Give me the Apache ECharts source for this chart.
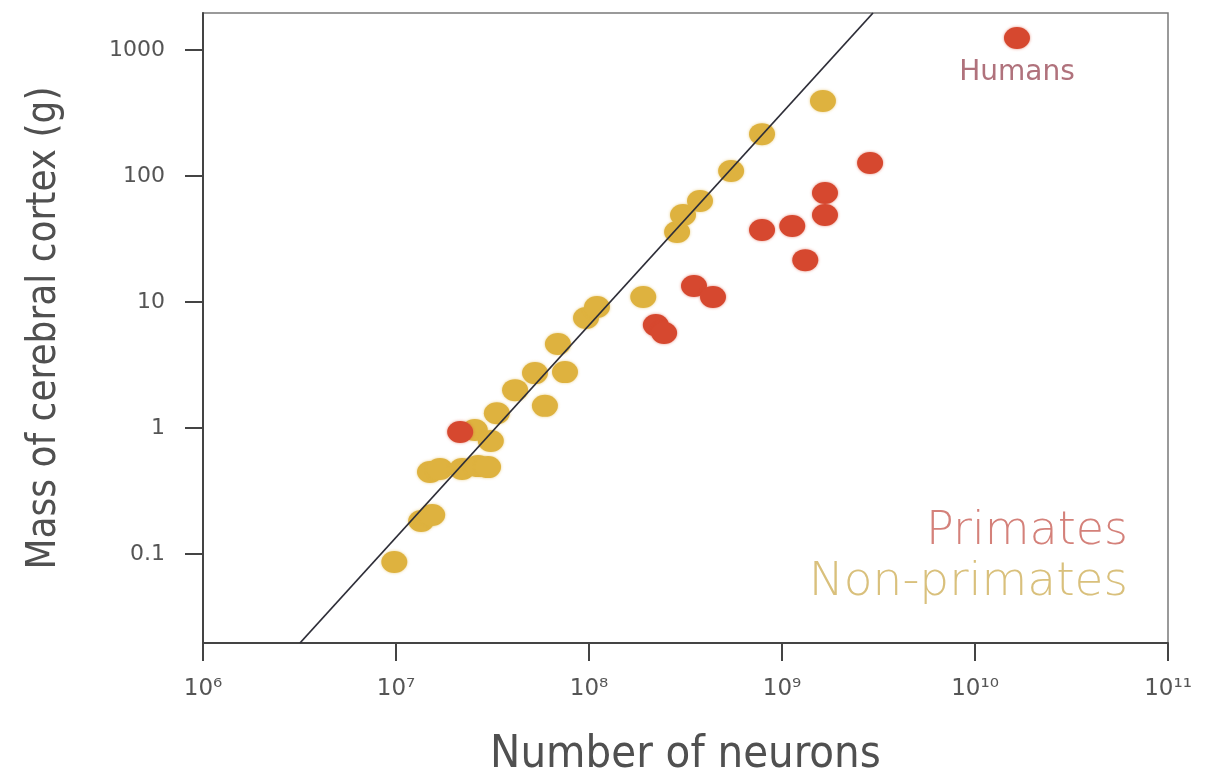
<!DOCTYPE html>
<html>
<head>
<meta charset="utf-8">
<script src="https://cdn.jsdelivr.net/npm/echarts@6/dist/echarts.min.js"></script>
<style>
  html, body { margin: 0; background: #fff; }
  #main { width: 1205px; height: 784px; }
</style>
</head>
<body>
<div id="main"></div>
<script>
// values (neurons, cortex mass in g)
var nonPrimateNeurons = [9.8e6, 1.35e7, 1.54e7, 1.50e7, 1.69e7, 2.20e7, 2.66e7, 3.0e7, 2.56e7, 3.10e7,
  3.33e7, 4.14e7, 5.25e7, 5.91e7, 6.90e7, 7.51e7, 9.65e7, 1.10e8, 1.91e8, 2.86e8,
  3.07e8, 3.76e8, 5.45e8, 7.88e8, 1.63e9];
var nonPrimateMass = [0.0865, 0.183, 0.204, 0.448, 0.473, 0.473, 0.499, 0.49, 0.964, 0.79,
  1.31, 2.0, 2.73, 1.50, 4.64, 2.78, 7.46, 9.12, 10.96, 35.9,
  49, 63.4, 109.6, 215, 394];

var primateNeurons = [2.15e7, 2.22e8, 2.45e8, 3.50e8, 4.39e8, 7.88e8, 1.13e9, 1.67e9, 1.67e9, 1.32e9, 2.86e9, 1.65e10];
var primateMass = [0.929, 6.56, 5.67, 13.4, 10.96, 37.3, 40.1, 73.3, 49, 21.5, 126.7, 1245];
var primateNames = ['', '', '', '', '', '', '', '', '', '', '', 'Humans'];

// fitted power law, end points on the frame
var fitNeurons = [3.18e6, 2.96e9];
var fitMass = [0.0197, 1966];

var xTicks = [1e6, 1e7, 1e8, 1e9, 1e10, 1e11];
var yTicks = [0.1, 1, 10, 100, 1000];

var sup = { 6: '⁶', 7: '⁷', 8: '⁸', 9: '⁹', 10: '¹⁰', 11: '¹¹' };

function pairs(xs, ys) {
  return xs.map(function (x, i) { return [x, ys[i]]; });
}

var FONT = '"DejaVu Sans", sans-serif';
var COND = '"DejaVu Sans Condensed", sans-serif';
var RED = '#d6482f';
var YELLOW = '#deb23f';

var myChart = echarts.init(document.getElementById('main'));

var option = {
  animation: false,
  backgroundColor: '#fff',
  grid: {
    left: 203, right: 37, top: 13, bottom: 141,
    outerBoundsMode: 'none',
    show: true,
    borderColor: '#7a7a7a',
    borderWidth: 1.5
  },
  xAxis: {
    type: 'log',
    min: 1e6,
    max: 1e11,
    name: 'Number of neurons',
    nameLocation: 'middle',
    nameGap: 90,
    nameTextStyle: { fontFamily: COND, fontSize: 45, color: '#505050', fontWeight: 200 },
    axisLine: { lineStyle: { color: '#444', width: 2 } },
    axisTick: { customValues: xTicks, length: 18, lineStyle: { color: '#444', width: 2 } },
    axisLabel: {
      customValues: xTicks,
      margin: 35,
      fontFamily: FONT,
      fontSize: 23,
      color: '#555',
      formatter: function (v) {
        var e = Math.round(Math.log10(v));
        return '10' + sup[e];
      }
    },
    splitLine: { show: false },
    minorTick: { show: false }
  },
  yAxis: {
    type: 'log',
    min: 0.0197,
    max: 1966,
    name: 'Mass of cerebral cortex (g)',
    nameLocation: 'middle',
    nameGap: 138,
    nameTextStyle: { fontFamily: COND, fontSize: 40, color: '#505050', fontWeight: 200 },
    axisLine: { lineStyle: { color: '#444', width: 2 } },
    axisTick: { customValues: yTicks, length: 18, lineStyle: { color: '#444', width: 2 } },
    axisLabel: {
      customValues: yTicks,
      margin: 38,
      fontFamily: FONT,
      fontSize: 22,
      color: '#555',
      formatter: function (v) {
        var e = Math.log10(v);
        if (Math.abs(e - Math.round(e)) > 1e-6) return '';
        return v < 1 ? v.toFixed(1) : String(Math.round(v));
      }
    },
    splitLine: { show: false },
    minorTick: { show: false }
  },
  graphic: [
    {
      type: 'text', right: 77, top: 509,
      style: { text: 'Primates', font: '200 46px "DejaVu Sans", sans-serif', fill: '#d4817a' }
    },
    {
      type: 'text', right: 77, top: 559,
      style: { text: 'Non-primates', font: '200 47px "DejaVu Sans", sans-serif', fill: '#d9c07c' }
    }
  ],
  series: [
    {
      name: 'Non-primates',
      type: 'scatter',
      symbol: 'circle',
      symbolSize: [26, 22],
      itemStyle: { color: YELLOW, opacity: 1, shadowBlur: 3, shadowColor: 'rgba(222,178,63,0.6)' },
      data: pairs(nonPrimateNeurons, nonPrimateMass),
      z: 2
    },
    {
      name: 'fit',
      type: 'line',
      symbol: 'none',
      lineStyle: { color: '#2e2e38', width: 1.8 },
      data: pairs(fitNeurons, fitMass),
      z: 3
    },
    {
      name: 'Primates',
      type: 'scatter',
      symbol: 'circle',
      symbolSize: [26, 22],
      itemStyle: { color: RED, opacity: 1, shadowBlur: 3, shadowColor: 'rgba(214,72,47,0.6)' },
      data: primateNeurons.map(function (x, i) {
        var d = { value: [x, primateMass[i]] };
        if (primateNames[i]) {
          d.label = {
            show: true, position: 'bottom', distance: 10,
            formatter: primateNames[i],
            fontFamily: FONT, fontSize: 28, color: '#b0727c'
          };
        }
        return d;
      }),
      z: 4
    }
  ]
};

myChart.setOption(option, true);
</script>
</body>
</html>
